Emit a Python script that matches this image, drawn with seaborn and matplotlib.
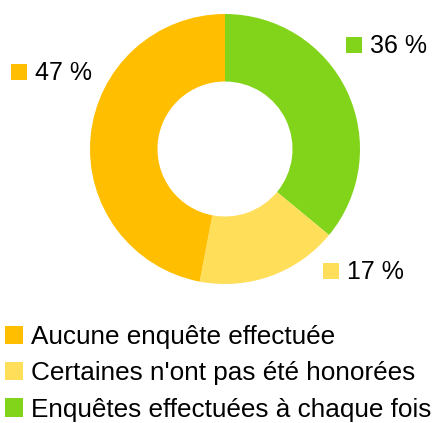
import matplotlib
matplotlib.use('Agg')
import matplotlib.pyplot as plt
from matplotlib.patches import Rectangle
import seaborn as sns

# données du graphique
categories = ['Aucune enquête effectuée', 'Certaines n\'ont pas été honorées', 'Enquêtes effectuées à chaque fois']
values = [47, 17, 36]
colors = ['#FFBF00', '#FFDE59', '#81D41A']

sns.set_style('white')
plt.rcParams['font.family'] = ['Liberation Sans', 'DejaVu Sans']
plt.rcParams['text.color'] = 'black'

W, H = 436, 423
fig = plt.figure(figsize=(W / 100, H / 100), dpi=100)

# donut centre (225,149), rayon 135 px
cx, cy, r = 225, 149, 135
ax = fig.add_axes([(cx - r) / W, 1 - (cy + r) / H, 2 * r / W, 2 * r / H])

# ordre de dessin : vert, jaune, orange dans le sens horaire depuis le haut
order = [2, 1, 0]
wedges, _ = ax.pie([values[i] for i in order], colors=[colors[i] for i in order],
                   startangle=90, counterclock=False, radius=1,
                   wedgeprops=dict(width=0.5, linewidth=0))
ax.set_xlim(-1, 1)
ax.set_ylim(-1, 1)
ax.set_aspect('equal')
ax.axis('off')

# étiquettes de valeurs (position en pixels : coin haut-gauche du carré)
label_pos = {0: (11, 64), 1: (323, 263), 2: (346, 37)}
sq = 16
fs = 18
for i, (px, py) in label_pos.items():
    fig.add_artist(Rectangle((px / W, 1 - (py + sq) / H), sq / W, sq / H,
                             transform=fig.transFigure, color=colors[i], lw=0))
    fig.text((px + sq + 8) / W, 1 - (py + sq / 2 + 1) / H, f'{values[i]} %',
             color='black', fontsize=fs, va='center', ha='left')

# légende
handles = [wedges[order.index(i)] for i in range(3)]
fig.legend(handles, categories, loc='upper left', bbox_to_anchor=(5 / W, 1 - 325 / H),
           frameon=False, fontsize=18.8, handlelength=0.7, handleheight=0.7,
           handletextpad=0.3, labelspacing=0.47, borderaxespad=0, borderpad=0,
           labelcolor='black')

fig.savefig('out.png', dpi=100)
